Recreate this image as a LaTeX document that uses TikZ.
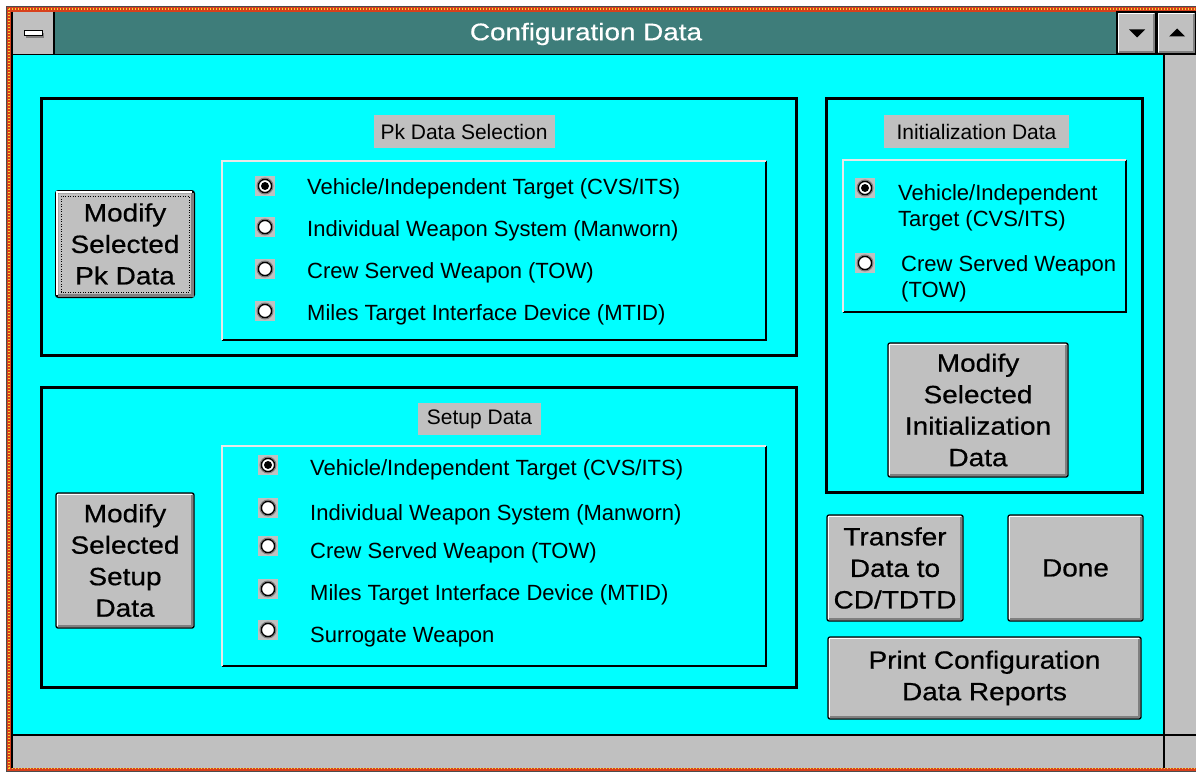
\documentclass[tikz,border=0pt]{standalone}
\usepackage{fontspec}
\setmainfont{Liberation Sans}
\newfontfamily\btnfamily{Liberation Sans}[FakeStretch=1.12,FakeBold=0.6]
\newfontfamily\titlefamily{Liberation Sans}[FakeStretch=1.16,FakeBold=0.5]
\definecolor{wincyan}{HTML}{00FFFF}
\definecolor{wingray}{HTML}{C0C0C0}
\definecolor{windark}{HTML}{808080}
\definecolor{titleteal}{HTML}{3E7D7A}
\definecolor{framered}{HTML}{D8401C}
\definecolor{frameyellow}{HTML}{F8D830}
\definecolor{edgelight}{HTML}{E8E8E8}

\tikzset{
  groupbox/.style={draw=black, line width=3},
  caption/.style={fill=wingray, inner sep=0, text=black,
    font=\fontsize{21}{25}\selectfont},
  radiotext/.style={anchor=base west, inner sep=0, align=left,
    font=\fontsize{22}{25.5}\selectfont},
  winbtn/.style={draw=black, fill=wingray, line width=1.3, rounded corners=2,
    inner sep=0, align=center, font=\btnfamily\fontsize{25}{31.5}\selectfont},
  radio/.pic={
    \fill[wingray] (-10pt,-10pt) rectangle (10pt,10pt);
    \fill[white] (0pt,0pt) circle[radius=8.5pt];
    \draw[windark, line width=1.2pt] (0pt,0pt) circle[radius=8pt];
    \draw[black, line width=1.4pt] (0pt,0pt) circle[radius=6.6pt];
  },
  radioon/.pic={
    \fill[wingray] (-10pt,-10pt) rectangle (10pt,10pt);
    \fill[white] (0pt,0pt) circle[radius=8.5pt];
    \draw[windark, line width=1.2pt] (0pt,0pt) circle[radius=8pt];
    \draw[black, line width=1.4pt] (0pt,0pt) circle[radius=6.6pt];
    \fill[black] (0pt,0pt) circle[radius=4pt];
  },
}

% 3-D highlight and shadow inside a button node
\newcommand\winbevel[1]{%
  \draw[white, line width=1.6]
    ([shift={(2.2,-3)}]#1.south west) -- ([shift={(2.2,2.2)}]#1.north west)
    -- ([shift={(-3,2.2)}]#1.north east);
  \draw[windark, line width=2.4]
    ([shift={(2.5,-2.6)}]#1.south west) -- ([shift={(-2.6,-2.6)}]#1.south east)
    -- ([shift={(-2.6,2.5)}]#1.north east);
}
% raised panel holding the option buttons
\newcommand\raisedpanel[4]{%
  \fill[wincyan] (#1,#2) rectangle (#3,#4);
  \draw[black, line width=2] (#1,#4) -- (#3,#4) -- (#3,#2);
  \draw[edgelight, line width=2] (#1,#4) -- (#1,#2) -- (#3,#2);
}

\begin{document}
\begin{tikzpicture}[x=1pt,y=-1pt]
\useasboundingbox (0,0) rectangle (1196,773);
\fill[white] (0,0) rectangle (1196,773);

% ---- window frame ----
\fill[framered] (6,6) rectangle (1196,771);
\draw[frameyellow, line width=1.6, dash pattern=on 1.4 off 1.6] (9,9) -- (1196,9);
\draw[frameyellow, line width=1.6, dash pattern=on 1.4 off 1.6] (9,9) -- (9,768) -- (1196,768);
\draw[black!70, line width=0.8] (1196,6) -- (6,6) -- (6,771) -- (1196,771);

% ---- title bar ----
\fill[titleteal] (54,12) rectangle (1117,54);
\node[text=white, inner sep=0, font=\titlefamily\fontsize{24}{28}\selectfont]
  (title) at (586,34) {Configuration Data};

% control-menu box
\fill[wingray] (12,12) rectangle (54,54);
\draw[black, line width=1.2] (54,12) -- (54,54);
\fill[windark] (26,33) rectangle (44,38);
\draw[black, line width=1, fill=white] (24,31) rectangle (42,36);

% scroll-down and scroll-up boxes
\node[winbtn, rounded corners=0, minimum width=39, minimum height=42] (downbox) at (1136.5,33) {};
\winbevel{downbox}
\fill[black] (1129,29.5) -- (1145,29.5) -- (1137,37.5) -- cycle;
\node[winbtn, rounded corners=0, minimum width=39, minimum height=42] (upbox) at (1176.5,33) {};
\winbevel{upbox}
\fill[black] (1169,36.5) -- (1185,36.5) -- (1177,28.5) -- cycle;
\draw[black, line width=1.5] (12,54.5) -- (1196,54.5);

% ---- client area and scroll bars ----
\fill[wincyan] (12,55.3) rectangle (1164,735);
\fill[wingray] (1164,55.3) rectangle (1196,735);
\fill[wingray] (12,735) rectangle (1196,768);
\draw[black, line width=1.5] (1164,55.3) -- (1164,768);
\draw[black, line width=1.5] (12,735) -- (1196,735);
\draw[black, line width=1.5] (12,12) -- (12,768);

% ---- Pk data selection group ----
\draw[groupbox] (41,99) rectangle (796,355);
\node[caption, minimum width=181, minimum height=33] (pkcap) at (464,131.5) {Pk Data Selection};
\raisedpanel{222}{161}{766}{340}
\pic at (265,186) {radioon};
\pic at (265,227) {radio};
\pic at (265,269) {radio};
\pic at (265,311) {radio};
\node[radiotext] (pk1) at (307,194) {Vehicle/Independent Target (CVS/ITS)};
\node[radiotext] (pk2) at (307,236) {Individual Weapon System (Manworn)};
\node[radiotext] (pk3) at (307,278) {Crew Served Weapon (TOW)};
\node[radiotext] (pk4) at (307,320) {Miles Target Interface Device (MTID)};

\node[winbtn, line width=3, minimum width=137, minimum height=105] (pkbtn) at (125,244)
  {Modify\\Selected\\Pk Data};
\winbevel{pkbtn}
\draw[black, line width=0.8, dash pattern=on 1 off 1.5]
  ([shift={(6,-6)}]pkbtn.south west) rectangle ([shift={(-6,6)}]pkbtn.north east);

% ---- setup data group ----
\draw[groupbox] (41,387) rectangle (796,687);
\node[caption, minimum width=123, minimum height=32] (setcap) at (479.5,419) {Setup Data};
\raisedpanel{222}{446}{766}{666}
\pic at (268,465) {radioon};
\pic at (268,508) {radio};
\pic at (268,546) {radio};
\pic at (268,589) {radio};
\pic at (268,630) {radio};
\node[radiotext] (su1) at (310,475) {Vehicle/Independent Target (CVS/ITS)};
\node[radiotext] (su2) at (310,520) {Individual Weapon System (Manworn)};
\node[radiotext] (su3) at (310,558) {Crew Served Weapon (TOW)};
\node[radiotext] (su4) at (310,600) {Miles Target Interface Device (MTID)};
\node[radiotext] (su5) at (310,642) {Surrogate Weapon};

\node[winbtn, minimum width=138, minimum height=135] (setbtn) at (125,560.5)
  {Modify\\Selected\\Setup\\Data};
\winbevel{setbtn}

% ---- initialization data group ----
\draw[groupbox] (826,99) rectangle (1142,492);
\node[caption, minimum width=185, minimum height=33] (initcap) at (976.5,131.5) {Initialization Data};
\raisedpanel{843}{160}{1126}{312}
\pic at (865,188) {radioon};
\pic at (865,263) {radio};
\node[radiotext] (in1) at (898,226) {Vehicle/Independent\\Target (CVS/ITS)};
\node[radiotext] (in2) at (901,297) {Crew Served Weapon\\(TOW)};

\node[winbtn, minimum width=180, minimum height=134] (initbtn) at (978,410)
  {Modify\\Selected\\Initialization\\Data};
\winbevel{initbtn}

% ---- command buttons ----
\node[winbtn, minimum width=136, minimum height=106] (xferbtn) at (895,568)
  {Transfer\\Data to\\CD/TDTD};
\winbevel{xferbtn}
\node[winbtn, minimum width=135, minimum height=106] (donebtn) at (1075.5,568) {Done};
\winbevel{donebtn}
\node[winbtn, minimum width=313, minimum height=82] (printbtn) at (984.5,678)
  {Print Configuration\\Data Reports};
\winbevel{printbtn}
\end{tikzpicture}
\end{document}
